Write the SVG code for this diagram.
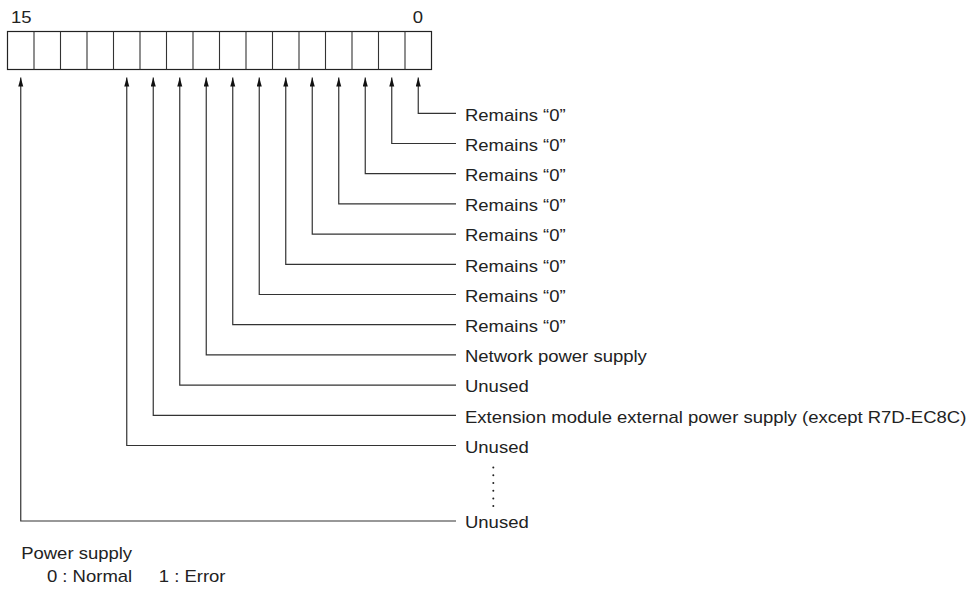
<svg xmlns="http://www.w3.org/2000/svg" width="974" height="590" viewBox="0 0 974 590">
<style>
.reg{fill:#fff;stroke:#222;stroke-width:1.2}
.cell{stroke:#333;stroke-width:1.1}
.conn{fill:none;stroke:#333;stroke-width:1.2}
.t{font-family:"Liberation Sans",Arial,sans-serif;font-size:16px;fill:#222}
.dot{fill:#222}
</style>
<defs>
<marker id="ah" markerUnits="userSpaceOnUse" markerWidth="10" markerHeight="6" refX="9" refY="2.5" orient="auto-start-reverse">
<path d="M0,0 L9,2.5 L0,5 z" fill="#111"/>
</marker>
</defs>
<rect width="974" height="590" fill="#fff"/>
<g id="register">
<rect class="reg" x="7.5" y="31.5" width="424" height="38"/>
<path class="cell" d="M34,31.5V69.5M60.5,31.5V69.5M87,31.5V69.5M113.5,31.5V69.5M140,31.5V69.5M166.5,31.5V69.5M193,31.5V69.5M219.5,31.5V69.5M246,31.5V69.5M272.5,31.5V69.5M299,31.5V69.5M325.5,31.5V69.5M352,31.5V69.5M378.5,31.5V69.5M405,31.5V69.5"/>
</g>
<g id="connectors">
<path class="conn" marker-start="url(#ah)" d="M418.25,77.5V113.3H456"/>
<path class="conn" marker-start="url(#ah)" d="M391.75,77.5V143.5H456"/>
<path class="conn" marker-start="url(#ah)" d="M365.25,77.5V173.7H456"/>
<path class="conn" marker-start="url(#ah)" d="M338.75,77.5V203.9H456"/>
<path class="conn" marker-start="url(#ah)" d="M312.25,77.5V234.1H456"/>
<path class="conn" marker-start="url(#ah)" d="M285.75,77.5V264.3H456"/>
<path class="conn" marker-start="url(#ah)" d="M259.25,77.5V294.5H456"/>
<path class="conn" marker-start="url(#ah)" d="M232.75,77.5V324.7H456"/>
<path class="conn" marker-start="url(#ah)" d="M206.25,77.5V354.9H456"/>
<path class="conn" marker-start="url(#ah)" d="M179.75,77.5V385.1H456"/>
<path class="conn" marker-start="url(#ah)" d="M153.25,77.5V415.3H456"/>
<path class="conn" marker-start="url(#ah)" d="M126.75,77.5V445.5H456"/>
<path class="conn" marker-start="url(#ah)" d="M20.75,77.5V521H456"/>
</g>
<g id="ellipsis">
<circle class="dot" cx="493.3" cy="467.5" r="1"/>
<circle class="dot" cx="493.3" cy="475.2" r="1"/>
<circle class="dot" cx="493.3" cy="483" r="1"/>
<circle class="dot" cx="493.3" cy="490.7" r="1"/>
<circle class="dot" cx="493.3" cy="498.4" r="1"/>
<circle class="dot" cx="493.3" cy="506" r="1"/>
</g>
<g id="labels" transform="scale(1.156,1)">
<text class="t" x="18.4" y="23.3" text-anchor="middle">15</text>
<text class="t" x="361.6" y="23.3" text-anchor="middle">0</text>
<text class="t" x="402.25" y="120.7">Remains “0”</text>
<text class="t" x="402.25" y="150.9">Remains “0”</text>
<text class="t" x="402.25" y="181.1">Remains “0”</text>
<text class="t" x="402.25" y="211.3">Remains “0”</text>
<text class="t" x="402.25" y="241.5">Remains “0”</text>
<text class="t" x="402.25" y="271.7">Remains “0”</text>
<text class="t" x="402.25" y="301.9">Remains “0”</text>
<text class="t" x="402.25" y="332.1">Remains “0”</text>
<text class="t" x="402.25" y="362.3">Network power supply</text>
<text class="t" x="402.25" y="392.5">Unused</text>
<text class="t" x="402.25" y="422.7">Extension module external power supply (except R7D-EC8C)</text>
<text class="t" x="402.25" y="452.9">Unused</text>
<text class="t" x="402.25" y="528.4">Unused</text>
<text class="t" x="18.3" y="559">Power supply</text>
<text class="t" x="40.6" y="582.3">0 : Normal</text>
<text class="t" x="137.3" y="582.3">1 : Error</text>
</g>
</svg>
